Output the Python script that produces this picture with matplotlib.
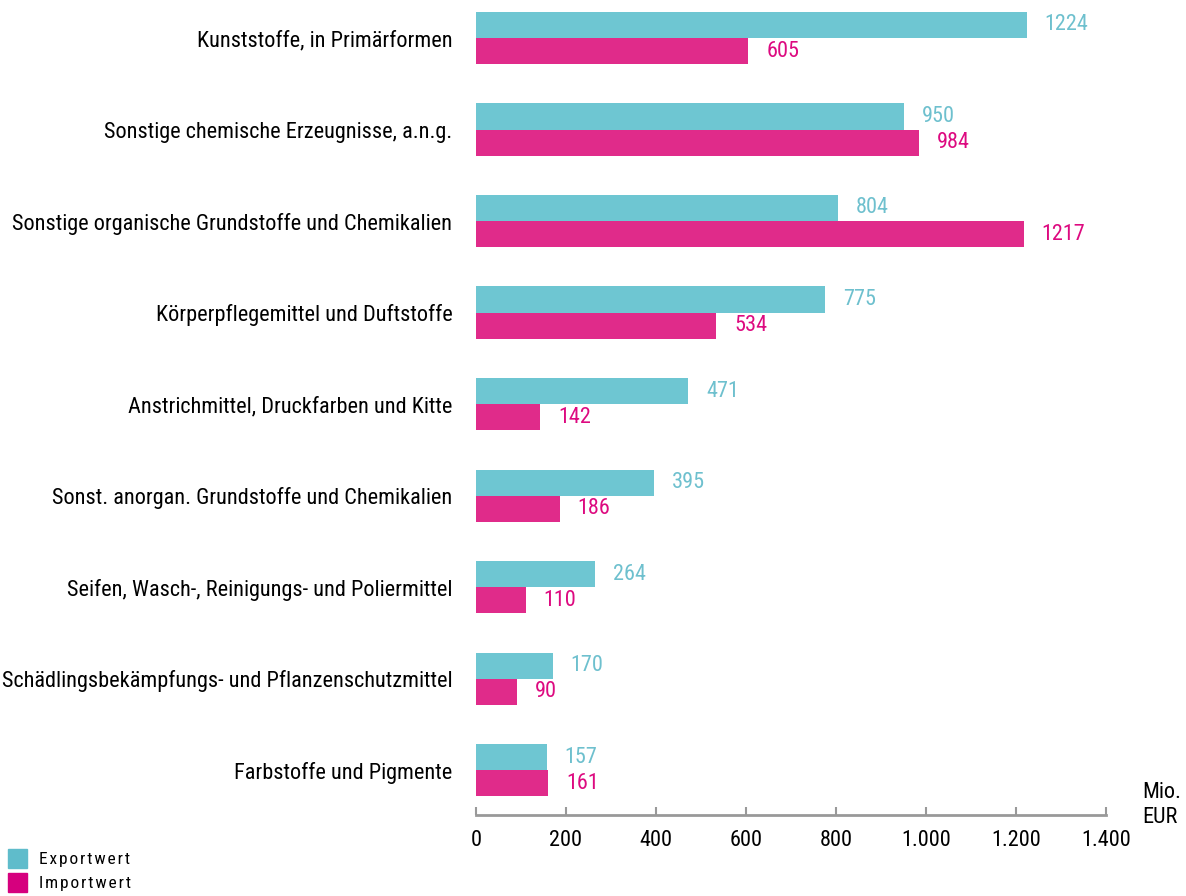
import matplotlib.pyplot as plt
import matplotlib.patches as mpatches
import numpy as np

categories = [
    'Kunststoffe, in Primärformen',
    'Sonstige chemische Erzeugnisse, a.n.g.',
    'Sonstige organische Grundstoffe und Chemikalien',
    'Körperpflegemittel und Duftstoffe',
    'Anstrichmittel, Druckfarben und Kitte',
    'Sonst. anorgan. Grundstoffe und Chemikalien',
    'Seifen, Wasch-, Reinigungs- und Poliermittel',
    'Schädlingsbekämpfungs- und Pflanzenschutzmittel',
    'Farbstoffe und Pigmente',
]
export_vals = [1224, 950, 804, 775, 471, 395, 264, 170, 157]
import_vals = [605, 984, 1217, 534, 142, 186, 110, 90, 161]
xticks = [0, 200, 400, 600, 800, 1000, 1200, 1400]
xtick_labels = ['0', '200', '400', '600', '800', '1.000', '1.200', '1.400']

EXP_COL = '#6EC6D2'
IMP_COL = '#E02B8A'
EXP_TXT = '#6EC0CE'
IMP_TXT = '#DD0A80'

plt.rcParams['font.family'] = ['Roboto Condensed', 'DejaVu Sans']

fig = plt.figure(figsize=(11.86, 8.96), dpi=100)
ax = fig.add_axes([476 / 1186, 1 - 815 / 896, (1106 - 476) / 1186, 815 / 896])

y = np.arange(len(categories))
h = 0.285
ax.barh(y - h / 2, export_vals, height=h, color=EXP_COL)
ax.barh(y + h / 2, import_vals, height=h, color=IMP_COL)

for yi, v in zip(y, export_vals):
    ax.text(v + 40, yi - h / 2, str(v), color=EXP_TXT, fontsize=16,
            va='center', ha='left')
for yi, v in zip(y, import_vals):
    ax.text(v + 40, yi + h / 2, str(v), color=IMP_TXT, fontsize=16,
            va='center', ha='left')

ax.set_ylim(8.49, -0.415)
ax.set_xlim(0, 1400)
ax.set_yticks(y)
ax.set_yticklabels(categories, fontsize=16)
ax.tick_params(axis='y', length=0, pad=17)
ax.set_xticks(xticks)
ax.set_xticklabels(xtick_labels, fontsize=16)
ax.tick_params(axis='x', length=6, width=1.5, color='#999999', direction='in', pad=11)

for s in ['top', 'right', 'left']:
    ax.spines[s].set_visible(False)
ax.spines['bottom'].set_color('#999999')
ax.spines['bottom'].set_linewidth(2)

fig.text(1142 / 1186, 1 - 805 / 896, 'Mio.\nEUR', fontsize=16, va='center', ha='left',
         linespacing=1.2)

# legend
fig.patches.append(mpatches.Rectangle((8 / 1186, 1 - 868 / 896), 19 / 1186, 19 / 896,
                                      transform=fig.transFigure, color='#5FBCCB'))
fig.patches.append(mpatches.Rectangle((8 / 1186, 1 - 892 / 896), 19 / 1186, 19 / 896,
                                      transform=fig.transFigure, color='#D6007E'))
fig.text(39 / 1186, 1 - 859 / 896, '\u200a'.join('Exportwert'),
         fontsize=12.5, va='center', ha='left')
fig.text(39 / 1186, 1 - 883 / 896, '\u200a'.join('Importwert'),
         fontsize=12.5, va='center', ha='left')

fig.savefig('out.png', dpi=100)
